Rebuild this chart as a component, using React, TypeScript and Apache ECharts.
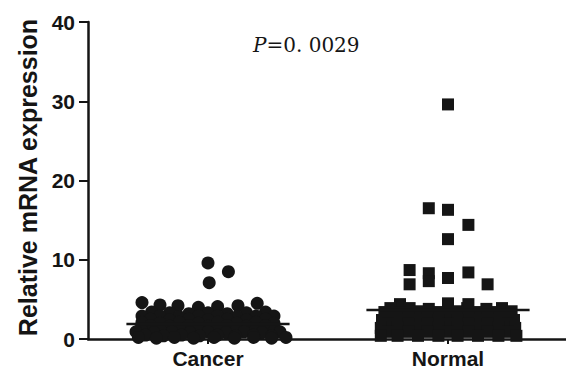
import React, { useEffect, useRef } from "react";
import * as echarts from "echarts";

const categories = ["Cancer", "Normal"];
const categoryCenters = [1, 3];
const yTicks = [0, 10, 20, 30, 40];
const meanValues = [1.9, 3.65];
const meanHalfWidth = 0.68;
const pLabel = "0. 0029";

// [jitter offset (axis units), value]
const cancerPoints: number[][] = [
  [0, 9.6], [0.17, 8.5], [0.01, 7.1],
  [-0.55, 4.6], [-0.4, 4.3], [-0.25, 4.2], [-0.08, 4.0], [0.08, 4.1], [0.25, 4.2], [0.41, 4.5],
  [-0.47, 3.4], [-0.32, 3.3], [-0.16, 3.2], [0, 3.3], [0.16, 3.2], [0.32, 3.3], [0.48, 3.4],
  [-0.55, 2.9], [-0.4, 2.9], [-0.24, 2.8], [-0.08, 2.9], [0.08, 2.9], [0.24, 2.8], [0.4, 2.9], [0.55, 2.9],
  [-0.48, 2.5], [-0.32, 2.4], [-0.16, 2.5], [0, 2.4], [0.16, 2.5], [0.32, 2.4], [0.48, 2.5],
  [-0.55, 2.1], [-0.4, 2.0], [-0.24, 2.1], [-0.08, 2.0], [0.08, 2.1], [0.24, 2.0], [0.4, 2.1], [0.55, 2.0],
  [-0.48, 1.7], [-0.32, 1.6], [-0.16, 1.7], [0, 1.6], [0.16, 1.7], [0.32, 1.6], [0.48, 1.7],
  [-0.56, 1.3], [-0.4, 1.2], [-0.24, 1.3], [-0.08, 1.2], [0.08, 1.3], [0.24, 1.2], [0.4, 1.3], [0.56, 1.2],
  [-0.6, 0.9], [-0.45, 0.8], [-0.3, 0.9], [-0.15, 0.8], [0, 0.9], [0.15, 0.8], [0.3, 0.9], [0.45, 0.8], [0.6, 0.9],
  [-0.52, 0.5], [-0.37, 0.4], [-0.22, 0.5], [-0.07, 0.4], [0.08, 0.5], [0.23, 0.4], [0.38, 0.5], [0.53, 0.4],
  [-0.58, 0.2], [-0.43, 0.1], [-0.28, 0.2], [-0.12, 0.1], [0.05, 0.2], [0.22, 0.1], [0.38, 0.2], [0.53, 0.1], [0.65, 0.2],
];

const normalPoints: number[][] = [
  [0, 29.6], [-0.16, 16.5], [0, 16.3], [0.17, 14.4], [0, 12.6],
  [-0.32, 8.7], [-0.16, 8.3], [-0.16, 7.3], [0, 7.7], [0.17, 8.4], [0.33, 6.9], [-0.32, 6.9],
  [-0.4, 4.4], [0, 4.5], [0.17, 4.4],
  [-0.48, 3.9], [-0.32, 3.9], [-0.16, 3.8], [0, 3.9], [0.16, 3.9], [0.32, 3.8], [0.45, 3.9],
  [-0.53, 3.4], [-0.4, 3.4], [-0.25, 3.5], [-0.08, 3.4], [0.08, 3.5], [0.25, 3.4], [0.4, 3.4], [0.53, 3.5],
  [-0.5, 2.9], [-0.33, 2.9], [-0.17, 2.9], [0, 2.9], [0.17, 2.9], [0.33, 2.9], [0.5, 2.9],
  [-0.55, 2.4], [-0.4, 2.4], [-0.25, 2.4], [-0.08, 2.4], [0.08, 2.4], [0.25, 2.4], [0.4, 2.4], [0.55, 2.4],
  [-0.5, 1.9], [-0.33, 1.9], [-0.17, 1.9], [0, 1.9], [0.17, 1.9], [0.33, 1.9], [0.5, 1.9],
  [-0.56, 1.4], [-0.42, 1.4], [-0.25, 1.4], [-0.08, 1.4], [0.08, 1.4], [0.25, 1.4], [0.42, 1.4], [0.56, 1.4],
  [-0.5, 0.9], [-0.33, 0.9], [-0.17, 0.9], [0, 0.9], [0.17, 0.9], [0.33, 0.9], [0.5, 0.9],
  [-0.56, 0.4], [-0.42, 0.4], [-0.25, 0.4], [-0.08, 0.4], [0.08, 0.4], [0.25, 0.4], [0.42, 0.4], [0.57, 0.4],
];

const INK = "#151515";

export default function App() {
  const ref = useRef<HTMLDivElement>(null);
  useEffect(() => {
    if (!ref.current) return;
    const chart = echarts.init(ref.current, null, { renderer: "svg" });
    const place = (pts: number[][], c: number) => pts.map(([dx, v]) => [c + dx, v]);
    const meanLine = (i: number) => [
      [categoryCenters[i] - meanHalfWidth, meanValues[i]],
      [categoryCenters[i] + meanHalfWidth, meanValues[i]],
    ];
    chart.setOption({
      animation: false,
      backgroundColor: "#ffffff",
      grid: { left: 88, top: 22, width: 480, height: 317, outerBoundsMode: "none", containLabel: false },
      xAxis: [
        {
          type: "category",
          data: categories,
          boundaryGap: true,
          axisLine: { show: true, lineStyle: { color: INK, width: 2.5 } },
          axisTick: { show: true, alignWithLabel: true, length: 5, lineStyle: { color: INK, width: 2 } },
          axisLabel: { color: INK, fontSize: 21, fontWeight: "bold", fontFamily: "Liberation Sans, Arial, sans-serif", margin: 9 },
          splitLine: { show: false },
        },
        { type: "value", min: 0, max: 4, show: false, splitLine: { show: false } },
      ],
      yAxis: {
        type: "value",
        min: yTicks[0],
        max: yTicks[yTicks.length - 1],
        interval: 10,
        name: "Relative mRNA expression",
        nameLocation: "middle",
        nameGap: 48,
        nameTextStyle: { color: INK, fontSize: 25, fontWeight: "bold", fontFamily: "Liberation Sans, Arial, sans-serif", padding: [0, 0, 0, 6] },
        axisLine: { show: true, lineStyle: { color: INK, width: 2.5 } },
        axisTick: { show: true, length: 9, lineStyle: { color: INK, width: 2 } },
        axisLabel: { color: INK, fontSize: 21, fontWeight: "bold", fontFamily: "Liberation Sans, Arial, sans-serif", margin: 13 },
        splitLine: { show: false },
      },
      series: [
        {
          type: "scatter",
          xAxisIndex: 1,
          symbol: "circle",
          symbolSize: 13,
          clip: false,
          itemStyle: { color: INK, opacity: 1 },
          data: place(cancerPoints, categoryCenters[0]),
        },
        {
          type: "scatter",
          xAxisIndex: 1,
          symbol: "rect",
          symbolSize: 12,
          clip: false,
          itemStyle: { color: INK, opacity: 1 },
          data: place(normalPoints, categoryCenters[1]),
        },
        {
          type: "line",
          xAxisIndex: 1,
          symbol: "none",
          z: 3,
          lineStyle: { color: INK, width: 2.5 },
          data: meanLine(0),
        },
        {
          type: "line",
          xAxisIndex: 1,
          symbol: "none",
          z: 3,
          lineStyle: { color: INK, width: 2.5 },
          data: meanLine(1),
        },
      ],
      graphic: [
        {
          type: "text",
          left: 253,
          top: 35,
          style: {
            text: "{p|P}{v|=" + pLabel + "}",
            rich: {
              p: { fontFamily: "DejaVu Serif, serif", fontStyle: "italic", fontSize: 20, fill: INK },
              v: { fontFamily: "DejaVu Serif, serif", fontSize: 20, fill: INK },
            },
          },
        },
      ],
    });
    return () => chart.dispose();
  }, []);
  return <div ref={ref} style={{ position: "fixed", left: 0, top: 0, width: 566, height: 371 }} />;
}
